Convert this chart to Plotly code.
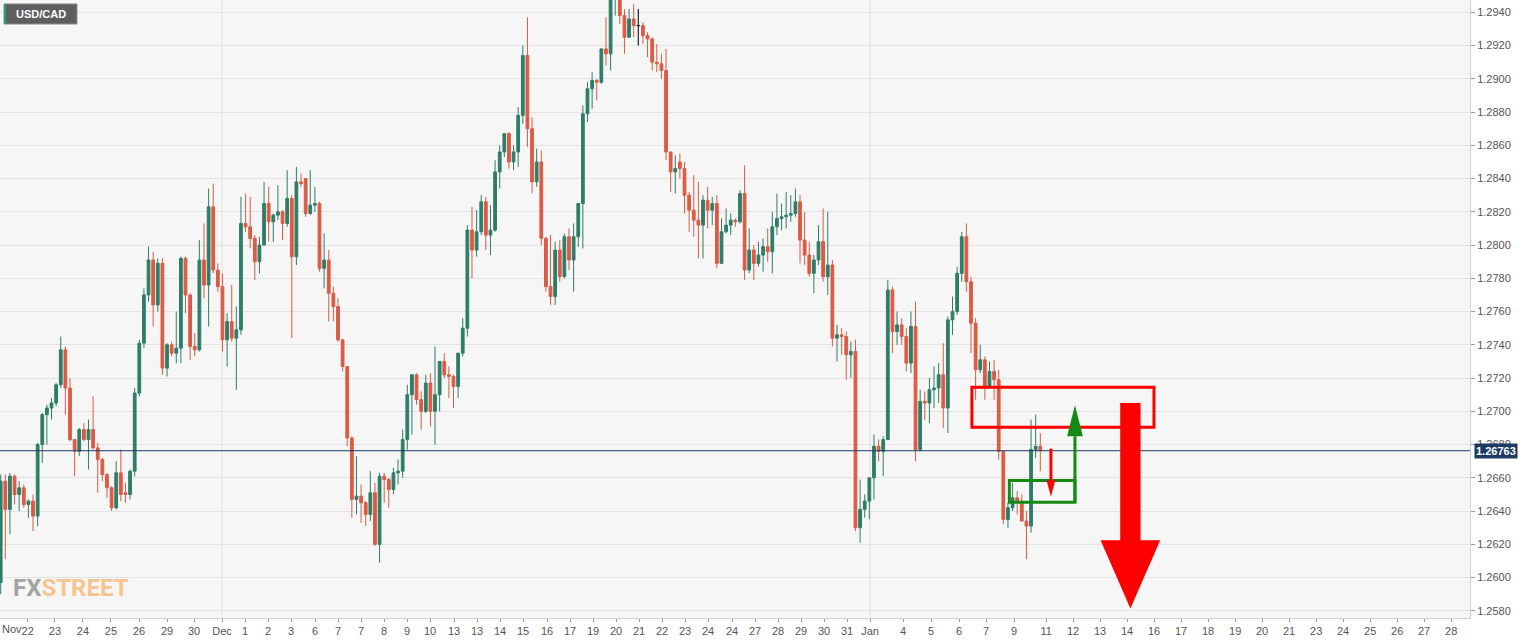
import plotly.graph_objects as go

# ---------------- data (4h candles, prices in pips = price * 10000) ----------------
open_pips = [12597,12658,12641,12661,12650,12654,12644,12646,12637,12680,
12698,12702,12705,12716,12737,12714,12683,12676,12689,12683,
12689,12678,12671,12662,12654,12642,12663,12651,12650,12664,
12711,12741,12770,12791,12764,12789,12726,12740,12735,12738,
12792,12770,12739,12737,12791,12776,12823,12785,12775,12743,
12754,12744,12749,12813,12811,12804,12790,12800,12825,12814,
12818,12820,12813,12828,12793,12838,12840,12819,12824,12825,
12786,12791,12771,12763,12743,12727,12684,12647,12649,12645,
12638,12651,12620,12661,12659,12653,12663,12664,12683,12710,
12722,12707,12700,12717,12700,12710,12730,12722,12721,12715,
12735,12750,12809,12797,12808,12826,12806,12809,12844,12856,
12867,12850,12856,12878,12914,12870,12838,12850,12804,12775,
12769,12797,12781,12805,12791,12805,12825,12879,12894,12899,
12898,12918,12915,12950,12952,12938,12925,12936,12932,12932,
12926,12924,12910,12909,12905,12856,12844,12850,12846,12830,
12821,12815,12812,12827,12821,12825,12789,12808,12812,12815,
12814,12831,12785,12797,12789,12794,12799,12796,12811,12816,
12817,12818,12819,12826,12803,12794,12783,12791,12802,12781,
12788,12744,12746,12745,12734,12736,12630,12641,12646,12660,
12679,12676,12683,12773,12748,12752,12745,12729,12751,12677,
12706,12705,12713,12714,12722,12702,12755,12760,12783,12805,
12778,12753,12725,12731,12715,12724,12719,12676,12635,12642,
12648,12646,12634,12631,12677,12679]

high_pips = [12662,12662,12663,12662,12658,12656,12647,12650,12681,12699,
12704,12708,12717,12745,12739,12720,12683,12690,12693,12695,
12709,12681,12672,12663,12655,12670,12677,12657,12665,12714,
12743,12774,12799,12796,12792,12792,12741,12742,12760,12793,
12793,12771,12747,12803,12813,12834,12837,12789,12783,12759,
12776,12763,12829,12831,12829,12806,12805,12838,12835,12819,
12836,12821,12845,12830,12847,12843,12840,12845,12835,12826,
12807,12797,12775,12768,12743,12727,12685,12673,12656,12646,
12664,12657,12663,12663,12660,12666,12671,12689,12716,12722,
12723,12712,12722,12723,12739,12730,12735,12727,12722,12735,
12756,12812,12823,12821,12830,12829,12824,12851,12860,12867,
12868,12860,12883,12920,12937,12877,12858,12857,12805,12806,
12802,12803,12807,12810,12813,12825,12884,12898,12904,12900,
12918,12937,12958,12965,12956,12942,12942,12945,12942,12934,
12928,12925,12921,12915,12918,12856,12854,12855,12850,12832,
12842,12838,12830,12835,12829,12830,12816,12822,12819,12816,
12833,12848,12810,12800,12802,12804,12810,12820,12831,12825,
12832,12830,12834,12830,12820,12802,12794,12812,12822,12820,
12791,12752,12750,12748,12742,12743,12659,12650,12660,12686,
12683,12685,12779,12775,12760,12756,12750,12760,12766,12713,
12712,12720,12727,12729,12741,12757,12769,12787,12808,12813,
12781,12756,12740,12733,12730,12731,12725,12676,12645,12657,
12652,12650,12640,12695,12698,12687]

low_pips = [12590,12611,12626,12644,12640,12642,12636,12628,12631,12669,
12680,12695,12703,12714,12698,12682,12661,12673,12682,12665,
12677,12651,12658,12648,12640,12641,12646,12645,12647,12661,
12709,12738,12766,12751,12760,12722,12721,12733,12729,12729,
12759,12731,12733,12736,12768,12751,12783,12772,12736,12727,
12742,12713,12746,12808,12798,12779,12783,12800,12802,12802,
12815,12803,12811,12744,12788,12835,12817,12818,12820,12784,
12774,12754,12754,12742,12724,12679,12636,12638,12633,12631,
12634,12619,12609,12645,12642,12650,12656,12660,12677,12686,
12704,12689,12699,12691,12680,12700,12720,12708,12702,12708,
12733,12745,12780,12793,12806,12797,12794,12808,12834,12853,
12846,12845,12847,12873,12859,12831,12835,12800,12772,12764,
12764,12778,12780,12785,12772,12799,12798,12874,12882,12887,
12897,12908,12905,12938,12933,12915,12925,12925,12920,12921,
12913,12905,12904,12900,12851,12832,12831,12840,12819,12808,
12805,12792,12792,12810,12812,12786,12789,12807,12806,12811,
12813,12779,12783,12779,12787,12784,12790,12783,12806,12809,
12810,12814,12817,12789,12788,12781,12771,12788,12778,12770,
12739,12730,12734,12719,12720,12628,12621,12636,12635,12647,
12670,12661,12683,12735,12740,12740,12724,12723,12670,12676,
12695,12693,12702,12705,12690,12687,12746,12758,12778,12772,
12735,12707,12723,12707,12714,12707,12671,12632,12630,12640,
12638,12634,12611,12627,12672,12664]

close_pips = [12658,12641,12661,12650,12654,12644,12646,12637,12680,12698,
12702,12705,12716,12737,12714,12683,12676,12689,12683,12689,
12678,12671,12662,12654,12642,12663,12650,12650,12664,12711,
12741,12770,12791,12764,12789,12726,12740,12735,12738,12792,
12770,12739,12737,12791,12776,12823,12785,12775,12743,12754,
12744,12749,12813,12811,12804,12790,12800,12825,12814,12818,
12820,12813,12828,12793,12838,12837,12819,12824,12825,12786,
12791,12771,12763,12743,12727,12684,12647,12649,12645,12638,
12651,12620,12661,12659,12653,12663,12664,12683,12710,12722,
12707,12700,12717,12700,12710,12730,12722,12721,12715,12735,
12750,12809,12797,12808,12826,12806,12809,12844,12856,12867,
12850,12856,12878,12914,12870,12838,12850,12804,12775,12769,
12797,12781,12805,12791,12805,12825,12879,12894,12899,12898,
12918,12915,12950,12952,12938,12925,12936,12932,12932,12926,
12924,12910,12909,12905,12856,12844,12846,12846,12830,12821,
12815,12812,12827,12821,12825,12789,12808,12812,12815,12814,
12831,12785,12797,12789,12794,12799,12796,12811,12816,12817,
12818,12819,12826,12803,12794,12783,12791,12802,12781,12788,
12744,12746,12745,12734,12736,12630,12641,12646,12660,12679,
12676,12683,12773,12748,12752,12745,12729,12751,12677,12706,
12705,12713,12714,12722,12702,12755,12760,12783,12805,12778,
12753,12725,12731,12715,12724,12719,12676,12635,12642,12648,
12646,12634,12631,12677,12679,12676.3]

last_price = 1.26763

# x-axis tick positions (in candle-slot units) and labels
tick_pos = [5.84,11.75,17.81,23.87,29.94,36.0,41.84,47.90,52.88,57.86,62.84,68.03,
            73.01,77.99,82.97,87.94,92.92,98.12,103.10,108.07,113.05,118.25,123.23,
            128.20,133.18,138.16,143.14,148.12,153.10,158.29,163.27,168.25,173.23,
            178.20,183.18,188.16,195.30,201.36,207.42,213.27,219.33,226.26,232.10,
            237.95,243.79,249.63,255.48,261.32,267.17,273.01,278.85,284.70,290.54,
            296.39,302.23,308.07,313.92]
tick_lab = ["22","23","24","25","26","29","30","Dec","1","2","3","6","7","7","8","9","10",
            "13","13","14","15","16","17","19","20","21","22","23","24","24","27","28",
            "29","30","31","Jan","4","5","6","7","9","11","12","13","14","16","17","18",
            "19","20","21","23","24","25","26","27","28"]
month_lines = [47.90, 188.16]

y_ticks = [1.2580,1.2600,1.2620,1.2640,1.2660,1.2680,1.2700,1.2720,1.2740,1.2760,
           1.2780,1.2800,1.2820,1.2840,1.2860,1.2880,1.2900,1.2920,1.2940]

# drawn annotations (slot units / prices)
red_zone = dict(x0=210.2, x1=249.6, y0=1.26905, y1=1.27145)
green_zone = dict(x0=218.3, x1=232.5, y0=1.26453, y1=1.26584)
big_arrow = dict(xc=244.5, shaft_half=2.2, head_half=6.45, top=1.2705, base=1.26225, tip=1.25814)
green_arrow = dict(x=232.5, bottom=1.26453, base=1.2685, tip=1.27036, head_half=1.7)
small_arrow = dict(x=227.3, top=1.26776, base=1.26586, tip=1.26486, head_half=0.95)

# ---------------- figure ----------------
GREEN = "#2e7d68"
RED = "#dc5a44"
n = len(close_pips)
xs = list(range(n))
O = [v / 10000 for v in open_pips]
H = [v / 10000 for v in high_pips]
L = [v / 10000 for v in low_pips]
C = [v / 10000 for v in close_pips]

main_idx = [i for i in xs if open_pips[i] != close_pips[i]]
doji_idx = [i for i in xs if open_pips[i] == close_pips[i]]

fig = go.Figure()
fig.add_trace(go.Candlestick(
    x=[xs[i] for i in main_idx],
    open=[O[i] for i in main_idx], high=[H[i] for i in main_idx],
    low=[L[i] for i in main_idx], close=[C[i] for i in main_idx],
    increasing=dict(line=dict(color=GREEN, width=1), fillcolor=GREEN),
    decreasing=dict(line=dict(color=RED, width=1), fillcolor=RED),
    whiskerwidth=0, hoverinfo="skip", showlegend=False))

for i in doji_idx:
    fig.add_trace(go.Scatter(x=[xs[i], xs[i], None, xs[i] - 0.38, xs[i] + 0.38],
                             y=[L[i], H[i], None, O[i], O[i]], mode="lines",
                             line=dict(color="#222222", width=1.2),
                             hoverinfo="skip", showlegend=False))

shapes = []
for mx in month_lines:
    shapes.append(dict(type="line", xref="x", yref="paper", x0=mx, x1=mx, y0=0, y1=1,
                       line=dict(color="#e2e2e2", width=1), layer="below"))
# current price line
shapes.append(dict(type="line", xref="paper", yref="y", x0=0, x1=1, y0=last_price, y1=last_price,
                   line=dict(color="#1c3b63", width=1)))
# zones
shapes.append(dict(type="rect", xref="x", yref="y", **red_zone, line=dict(color="#ff0000", width=3)))
shapes.append(dict(type="rect", xref="x", yref="y", **green_zone, line=dict(color="#138a13", width=3)))
# big red arrow
b = big_arrow
path = (f"M {b['xc']-b['shaft_half']},{b['top']} L {b['xc']+b['shaft_half']},{b['top']} "
        f"L {b['xc']+b['shaft_half']},{b['base']} L {b['xc']+b['head_half']},{b['base']} "
        f"L {b['xc']},{b['tip']} L {b['xc']-b['head_half']},{b['base']} "
        f"L {b['xc']-b['shaft_half']},{b['base']} Z")
shapes.append(dict(type="path", xref="x", yref="y", path=path, fillcolor="#ff0000",
                   line=dict(color="#ff0000", width=0)))
# green arrow
g = green_arrow
shapes.append(dict(type="line", xref="x", yref="y", x0=g["x"], x1=g["x"], y0=g["bottom"], y1=g["base"],
                   line=dict(color="#138a13", width=3)))
shapes.append(dict(type="path", xref="x", yref="y",
                   path=f"M {g['x']-g['head_half']},{g['base']} L {g['x']+g['head_half']},{g['base']} L {g['x']},{g['tip']} Z",
                   fillcolor="#138a13", line=dict(color="#138a13", width=0)))
# small red arrow
s = small_arrow
shapes.append(dict(type="line", xref="x", yref="y", x0=s["x"], x1=s["x"], y0=s["top"], y1=s["base"],
                   line=dict(color="#ff0000", width=3)))
shapes.append(dict(type="path", xref="x", yref="y",
                   path=f"M {s['x']-s['head_half']},{s['base']} L {s['x']+s['head_half']},{s['base']} L {s['x']},{s['tip']} Z",
                   fillcolor="#ff0000", line=dict(color="#ff0000", width=0)))
# USD/CAD label box
shapes.append(dict(type="rect", xref="paper", yref="paper", x0=4/1470, x1=77/1470,
                   y0=1-24/618, y1=1-4/618, fillcolor="#5e5e5e", line=dict(color="#8a8a8a", width=1)))
shapes.append(dict(type="rect", xref="paper", yref="paper", x0=4/1470, x1=6/1470,
                   y0=1-24/618, y1=1-4/618, fillcolor="#2e9a78", line=dict(width=0)))

annotations = [
    dict(xref="paper", yref="paper", x=41/1470, y=1-14/618, text="<b>USD/CAD</b>", showarrow=False,
         font=dict(color="white", size=11, family="Liberation Sans, Arial, sans-serif"),
         xanchor="center", yanchor="middle"),
    dict(xref="paper", yref="paper", x=11/1470, y=1-588/618,
         text="<b><span style='color:#a3a3a3'>FX</span><span style='color:#f6c48e'>STREET</span></b>",
         showarrow=False, font=dict(size=24, family="Roboto, Liberation Sans, sans-serif"),
         xanchor="left", yanchor="middle"),
    dict(xref="paper", yref="y", x=1, y=last_price, xanchor="left", yanchor="middle", xshift=4,
         text="<b>1.26763</b>", showarrow=False, bgcolor="#1c3b63", borderpad=1,
         font=dict(color="white", size=11, family="Liberation Sans, Arial, sans-serif")),
    dict(xref="paper", yref="paper", x=0, y=0, xanchor="left", yanchor="top", yshift=-3,
         text="Nov", showarrow=False,
         font=dict(color="#555555", size=11, family="Liberation Sans, Arial, sans-serif")),
]

fig.update_layout(
    width=1536, height=641,
    margin=dict(l=0, r=66, t=0, b=23),
    paper_bgcolor="white", plot_bgcolor="#f6f6f6",
    boxgap=0.15,
    shapes=shapes, annotations=annotations,
    font=dict(family="Liberation Sans, Arial, sans-serif", size=11, color="#555555"),
    xaxis=dict(range=[-0.15, 318.0], tickmode="array", tickvals=tick_pos, ticktext=tick_lab,
               showgrid=False, zeroline=False, rangeslider=dict(visible=False),
               ticks="outside", ticklen=3, tickcolor="#9a9a9a",
               showline=True, linecolor="#c9d3e6", mirror=True,
               tickfont=dict(size=11, color="#555555")),
    yaxis=dict(range=[1.25757, 1.29474], side="right", tickmode="array", tickvals=y_ticks,
               ticktext=[f"{v:.4f}" for v in y_ticks], showgrid=True, gridcolor="#e3e3e3",
               zeroline=False, ticks="outside", ticklen=4, tickcolor="#9a9a9a",
               showline=True, linecolor="#c9d3e6", mirror=True,
               tickfont=dict(size=11, color="#555555")),
)

fig.write_html("out.html", config={"displayModeBar": False},
               post_script="document.body.style.margin='0';document.body.style.overflow='hidden';")
